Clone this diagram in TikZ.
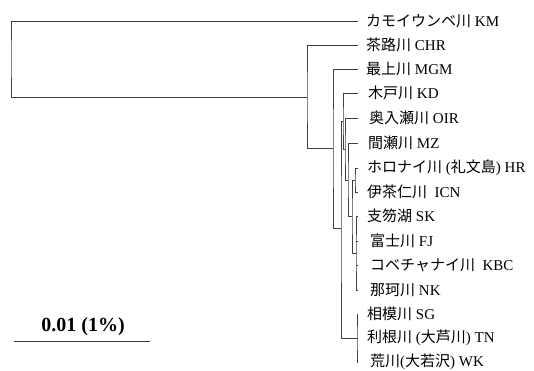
\documentclass[tikz,border=0pt]{standalone}
\usepackage{fontspec}
\setmainfont{Liberation Serif}
\newfontfamily\jp{Noto Sans CJK JP}
\begin{document}
\begin{tikzpicture}[x=1pt,y=-1pt,
  br/.style={draw=black!75,line width=0.8pt},
  lab/.style={anchor=west,inner sep=0pt,font=\fontsize{15}{15}\selectfont}]
\useasboundingbox (0,0) rectangle (534,371);
% leaf tips
\foreach \n/\yy in {KM/21,CHR/45,MGM/69,KD/93,OIR/118,MZ/143,HR/168,ICN/192,SK/216,FJ/241,KBC/265,NK/290,SG/314,TN/338,WK/362}
  \coordinate (\n) at (358,\yy);
% internal nodes
\coordinate (R) at (11,59);
\coordinate (A) at (307,97);
\coordinate (B) at (333,148);
\coordinate (C) at (341,228);
\coordinate (C1) at (343,121);
\coordinate (D) at (345,149);
\coordinate (E) at (348,180);
\coordinate (F) at (352,216);
\coordinate (F1) at (355,180);
\coordinate (F2) at (356,253);
\coordinate (G) at (357,338);
% brackets
\draw[br] (KM) -| (R) |- (A);
\draw[br] (CHR) -| (A) |- (B);
\draw[br] (MGM) -| (B) |- (C);
\draw[br] (C1) -| (C) |- (G);
\draw[br] (KD) -| (C1) |- (D);
\draw[br] (OIR) -| (D) |- (E);
\draw[br] (MZ) -| (E) |- (F);
\draw[br] (F1) -| (F) |- (F2);
\draw[br] (HR) -| (F1) |- (ICN);
\draw[br] (SK) -| (F2) |- (NK);
\draw[br] (F2 |- FJ) -- (FJ);
\draw[br] (F2 |- KBC) -- (KBC);
\draw[br] (SG) -| (G) |- (WK);
\draw[br] (G) -- (TN);
% labels
\node[lab] (lKM) at (366,21) {{\jp カモイウンベ川} KM};
\node[lab] (lCHR) at (366,45) {{\jp 茶路川} CHR};
\node[lab] (lMGM) at (366,69) {{\jp 最上川} MGM};
\node[lab] (lKD) at (368,93) {{\jp 木戸川} KD};
\node[lab] (lOIR) at (369,118) {{\jp 奥入瀬川} OIR};
\node[lab] (lMZ) at (368,143) {{\jp 間瀬川} MZ};
\node[lab] (lHR) at (367,168) {{\jp ホロナイ川} ({\jp 礼文島}) HR};
\node[lab] (lICN) at (367,192) {{\jp 伊茶仁川}\ \ ICN};
\node[lab] (lSK) at (367,216) {{\jp 支笏湖} SK};
\node[lab] (lFJ) at (370,241) {{\jp 富士川} FJ};
\node[lab] (lKBC) at (370,265) {{\jp コベチャナイ川}\ \ KBC};
\node[lab] (lNK) at (370,290) {{\jp 那珂川} NK};
\node[lab] (lSG) at (367,314) {{\jp 相模川} SG};
\node[lab] (lTN) at (367,338) {{\jp 利根川} ({\jp 大芦川}) TN};
\node[lab] (lWK) at (370,362) {{\jp 荒川}({\jp 大若沢}) WK};
% scale bar
\coordinate (s1) at (14,341);
\coordinate (s2) at (150,341);
\draw[br] (s1) -- (s2);
\node[font=\fontsize{20}{20}\bfseries\selectfont,inner sep=0pt] (scale) at (83,327) {0.01 (1\%)};
\end{tikzpicture}
\end{document}
